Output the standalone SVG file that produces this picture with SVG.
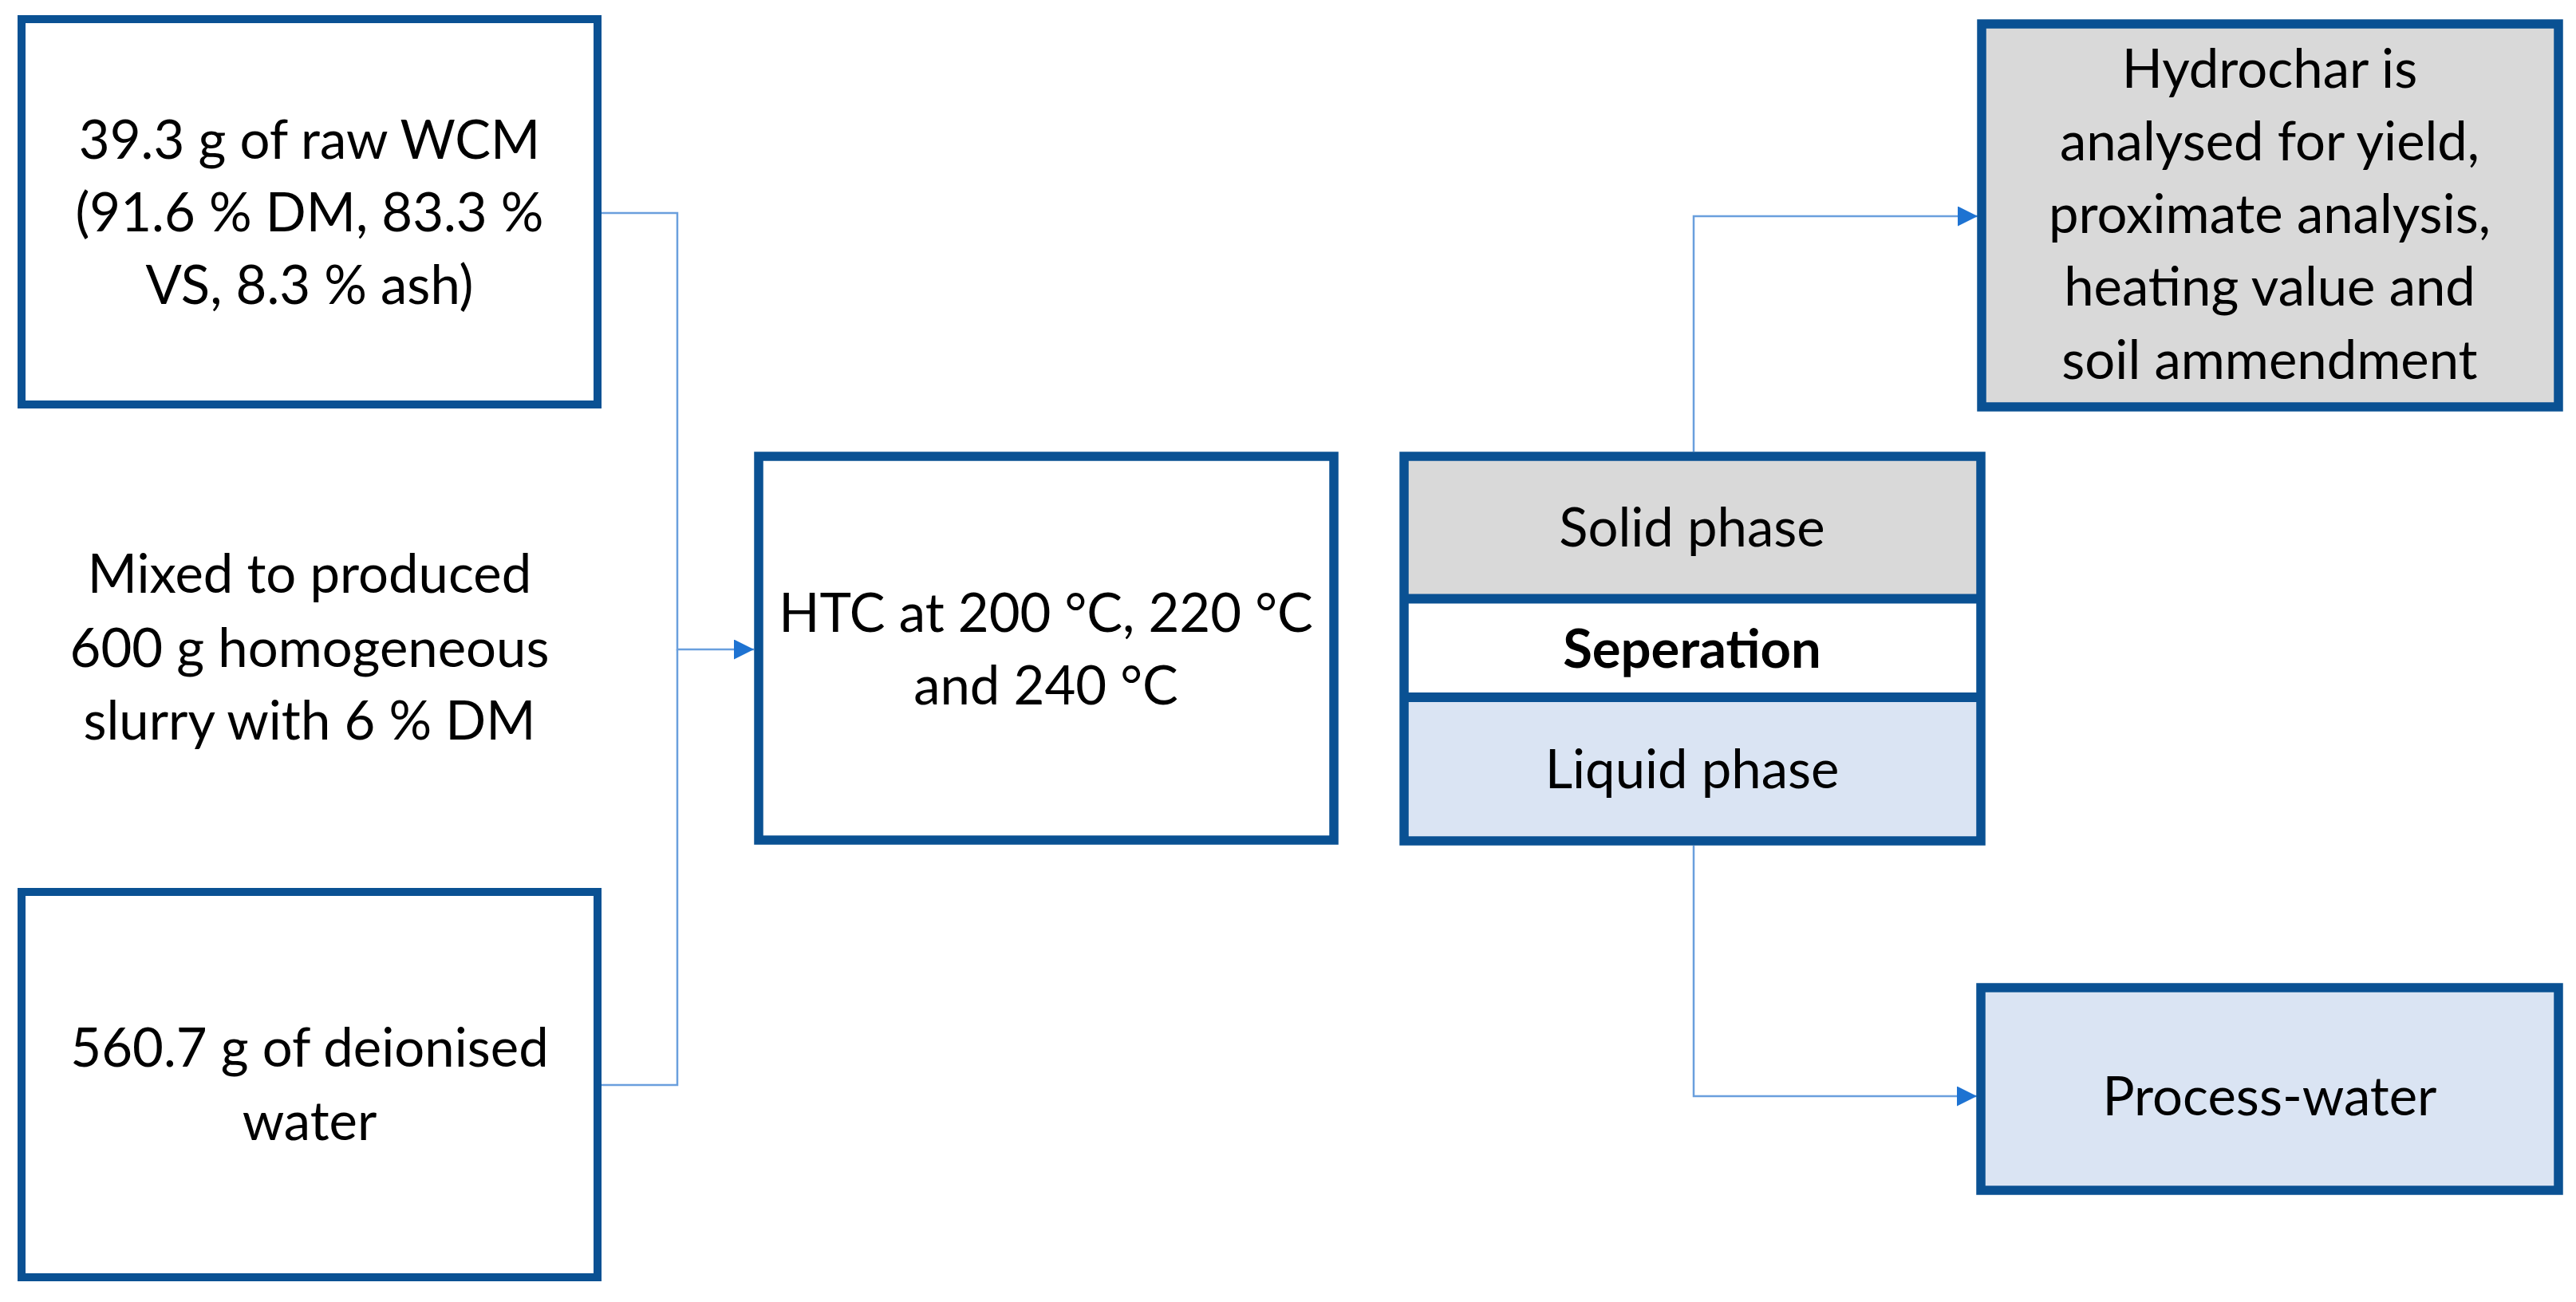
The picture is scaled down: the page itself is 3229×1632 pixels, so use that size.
<svg xmlns="http://www.w3.org/2000/svg" width="3229" height="1632" viewBox="0 0 3229 1632">
<style>
.box{stroke:#0A5193;stroke-width:11.5;fill:#FFFFFF}
.thin{stroke-width:10}
.gray{fill:#D9D9D9}
.lblue{fill:#DAE4F3}
.t{font-family:Lato,"Open Sans","Liberation Sans",sans-serif;font-size:67px;fill:#000;text-anchor:middle}
.b{font-weight:bold}
.conn{fill:none;stroke:#6A9FDD;stroke-width:2.5}
</style>
<defs>
<marker id="arr" viewBox="0 0 10 10" refX="10" refY="5" markerWidth="27" markerHeight="25" markerUnits="userSpaceOnUse" orient="auto">
<path d="M0,0 L10,5 L0,10 z" fill="#1E73D2"/>
</marker>
</defs>
<g id="connectors">
<path class="conn" d="M754,267 H849 V814 H945" marker-end="url(#arr)"/>
<path class="conn" d="M754,1360 H849 V814"/>
<path class="conn" d="M2123,566 V271 H2479" marker-end="url(#arr)"/>
<path class="conn" d="M2123,1060 V1374 H2478" marker-end="url(#arr)"/>
</g>
<g id="raw-wcm">
<rect class="box thin" x="27" y="24" width="722" height="483"/>
<text class="t" x="388" y="199">39.3 g of raw WCM</text>
<text class="t" x="388" y="290">(91.6 % DM, 83.3 %</text>
<text class="t" x="388" y="381">VS, 8.3 % ash)</text>
</g>
<g id="mixed-label">
<text class="t" x="388" y="743">Mixed to produced</text>
<text class="t" x="388" y="836">600 g homogeneous</text>
<text class="t" x="388" y="927">slurry with 6 % DM</text>
</g>
<g id="deionised-water">
<rect class="box thin" x="27" y="1118" width="722" height="483"/>
<text class="t" x="388" y="1337">560.7 g of deionised</text>
<text class="t" x="388" y="1429">water</text>
</g>
<g id="htc">
<rect class="box" x="951" y="572" width="721" height="481"/>
<text class="t" x="1311" y="792">HTC at 200 °C, 220 °C</text>
<text class="t" x="1311" y="883">and 240 °C</text>
</g>
<g id="separation">
<rect class="gray" x="1760" y="572" width="723" height="178"/>
<rect class="lblue" x="1760" y="874" width="723" height="180"/>
<rect x="1760" y="572" width="723" height="482" fill="none" stroke="#0A5193" stroke-width="11.5"/>
<line x1="1760" y1="750.5" x2="2483" y2="750.5" stroke="#0A5193" stroke-width="12"/>
<line x1="1760" y1="874" x2="2483" y2="874" stroke="#0A5193" stroke-width="12"/>
<text class="t" x="2121" y="685">Solid phase</text>
<text class="t b" x="2121" y="837">Seperation</text>
<text class="t" x="2121" y="988">Liquid phase</text>
</g>
<g id="hydrochar">
<rect class="box gray" x="2484" y="30" width="723" height="480"/>
<text class="t" x="2845" y="110">Hydrochar is</text>
<text class="t" x="2845" y="201">analysed for yield,</text>
<text class="t" x="2845" y="292">proximate analysis,</text>
<text class="t" x="2845" y="383">heating value and</text>
<text class="t" x="2845" y="475">soil ammendment</text>
</g>
<g id="process-water">
<rect class="box lblue" x="2483" y="1238" width="724" height="254"/>
<text class="t" x="2845" y="1398">Process-water</text>
</g>
</svg>
